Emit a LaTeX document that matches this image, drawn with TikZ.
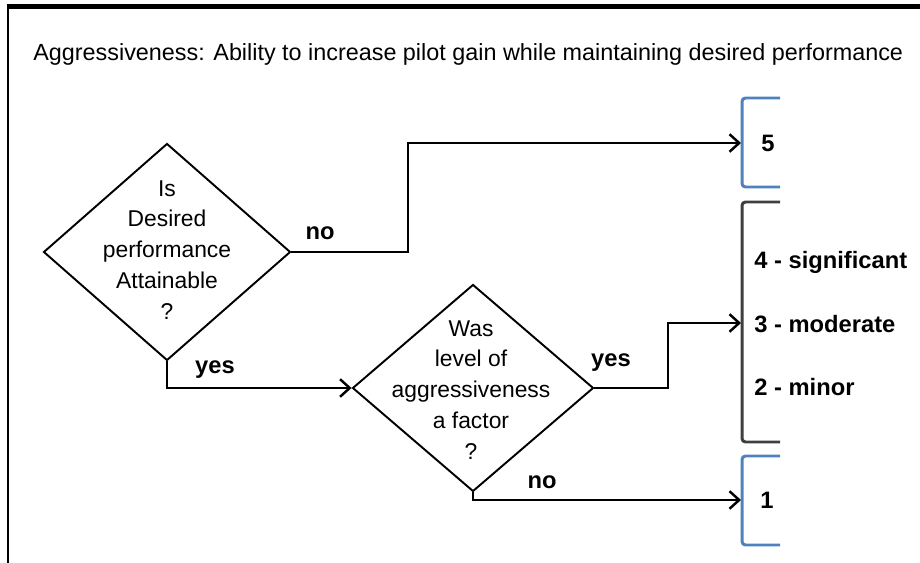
\documentclass[tikz,border=0pt]{standalone}
\usepackage{xcolor}
\usepackage{fontspec}
\setmainfont{Liberation Sans}
\usetikzlibrary{shapes.geometric,arrows.meta}

\definecolor{bracketblue}{RGB}{79,129,189}
\definecolor{bracketgray}{RGB}{62,64,62}

\tikzset{
  decision/.style={draw, shape=diamond, line width=1.1pt, inner sep=0pt},
  question/.style={align=center, font=\fontsize{13}{17.6}\selectfont},
  flow/.style={-{Straight Barb[length=5.5pt,width=10pt,line width=1.4pt]}, line width=1.1pt},
  answer/.style={font=\bfseries\fontsize{13.5}{15}\selectfont},
  bracket/.style={line width=1.7pt, rounded corners=2pt},
}

\begin{document}
\begin{tikzpicture}[x=0.02cm, y=-0.02cm]
\useasboundingbox (0,0) rectangle (920,563);
% frame
\fill (7,4) rectangle (920,9);
\fill (7,4) rectangle (9,563);
\node[anchor=base west, inner sep=0pt, font=\fontsize{13.3}{16}\selectfont] (title) at (33,61)
  {Aggressiveness: Ability to increase pilot gain while maintaining desired performance};

% questions
\node[decision, minimum width=4.94cm, minimum height=4.34cm] (q1) at (167,252) {};
\node[question] (q1text) at (167,250) {Is\\Desired\\performance\\Attainable\\?};
\node[decision, minimum width=4.82cm, minimum height=4.14cm] (q2) at (473,388) {};
\node[question] (q2text) at (471,390) {Was\\level of\\aggressiveness\\a factor\\?};

% ratings
\draw[bracket, bracketblue] (780,98) -- (742,98) -- (742,187) -- (780,187);
\draw[bracket, bracketgray] (780,202) -- (742,202) -- (742,442) -- (780,442);
\draw[bracket, bracketblue] (780,456) -- (742,456) -- (742,545) -- (780,545);
\coordinate (b5) at (741,143);
\coordinate (b3) at (741,323);
\coordinate (b1) at (741,500);
\node[answer] (r5) at (768,143) {5};
\node[answer, anchor=west, inner sep=0pt] (r4) at (754,262) {4 - significant};
\node[answer, anchor=west, inner sep=0pt] (r3) at (754,324) {3 - moderate};
\node[answer, anchor=west, inner sep=0pt] (r2) at (754,387) {2 - minor};
\node[answer] (r1) at (767,500) {1};

% connectors
\draw[flow] (q1.east) -- ++(117,0) |- (b5);
\draw[flow] (q1.south) |- (q2.west);
\draw[flow] (q2.east) -- ++(74,0) |- (b3);
\draw[flow] (q2.south) |- (b1);
\node[answer] (no1) at (320,233) {no};
\node[answer] (yes1) at (215,370) {yes};
\node[answer] (yes2) at (611,363) {yes};
\node[answer] (no2) at (542,482) {no};
\end{tikzpicture}
\end{document}
